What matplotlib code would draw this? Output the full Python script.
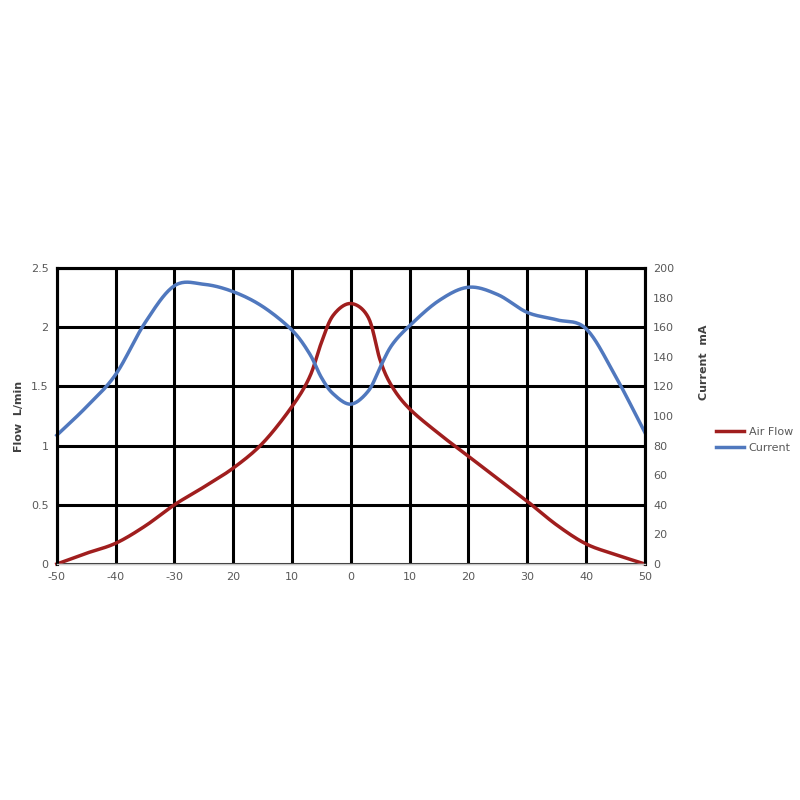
import matplotlib
matplotlib.use("Agg")
import matplotlib.pyplot as plt
import numpy as np

# readings taken off the chart
x_pos = [-50, -45, -40, -35, -30, -25, -20, -15, -10, -7, -5, -3, 0, 3, 5, 7, 10, 15, 20, 25, 30, 35, 40, 45, 50]
air_flow = [0.0, 0.09, 0.175, 0.32, 0.5, 0.65, 0.81, 1.02, 1.33, 1.58, 1.87, 2.1, 2.2, 2.08, 1.72, 1.5, 1.31, 1.1, 0.91, 0.72, 0.53, 0.33, 0.17, 0.08, 0.0]
current = [87, 106, 128, 163, 188, 189, 184, 174, 158, 142, 126, 115, 108, 117, 133, 148, 161, 178, 187, 182, 170, 165, 159, 127, 89]

tick_vals = [-50, -40, -30, -20, -10, 0, 10, 20, 30, 40, 50]
tick_labels = ["-50", "-40", "-30", "20", "10", "0", "10", "20", "30", "40", "50"]

red = "#A01E1E"
blue = "#5078BE"
grey = "#595959"


def smooth(xs, ys, n=20):
    # catmull-rom, like excel's "smoothed line"
    xs = np.asarray(xs, float)
    ys = np.asarray(ys, float)
    px = np.concatenate([[2 * xs[0] - xs[1]], xs, [2 * xs[-1] - xs[-2]]])
    py = np.concatenate([[2 * ys[0] - ys[1]], ys, [2 * ys[-1] - ys[-2]]])
    t = np.linspace(0, 1, n, endpoint=False)
    ox, oy = [], []
    for i in range(1, len(px) - 2):
        for p, o in ((px, ox), (py, oy)):
            p0, p1, p2, p3 = p[i - 1], p[i], p[i + 1], p[i + 2]
            o.extend(0.5 * (2 * p1 + (-p0 + p2) * t + (2 * p0 - 5 * p1 + 4 * p2 - p3) * t**2
                            + (-p0 + 3 * p1 - 3 * p2 + p3) * t**3))
    ox.append(xs[-1])
    oy.append(ys[-1])
    return np.array(ox), np.array(oy)


fig = plt.figure(figsize=(8, 8), dpi=100)
ax = fig.add_axes([0.071, 0.295, 0.735, 0.37])
ax2 = ax.twinx()

ax.set_xlim(-50, 50)
ax.set_ylim(0, 2.5)
ax2.set_ylim(0, 200)

ax.set_xticks(tick_vals)
ax.set_xticklabels(tick_labels)
ax.set_yticks([0, 0.5, 1, 1.5, 2, 2.5])
ax.set_yticklabels(["0", "0.5", "1", "1.5", "2", "2.5"])
ax2.set_yticks(range(0, 201, 20))

ax.grid(True, color="black", linewidth=2.2)
ax.set_axisbelow(True)
for a in (ax, ax2):
    a.tick_params(length=0, labelsize=8, labelcolor=grey, pad=6)
    for s in a.spines.values():
        s.set_color("black")
        s.set_linewidth(2.2)
    a.spines["bottom"].set_color("#C8C8C8")
    a.spines["bottom"].set_linewidth(1)

sx, sy = smooth(x_pos, air_flow)
l1, = ax.plot(sx, sy, color=red, linewidth=2.5, label="Air Flow", clip_on=False)
sx, sy = smooth(x_pos, current)
l2, = ax2.plot(sx, sy, color=blue, linewidth=2.5, label="Current", clip_on=False)

ax.set_ylabel("Flow  L/min", fontsize=8, fontweight="bold", color="#404040")
ax.yaxis.set_label_coords(-0.055, 0.5)
ax2.set_ylabel("Current  mA", fontsize=8, fontweight="bold", color="#404040")
ax2.yaxis.set_label_coords(1.092, 0.68)

fig.legend(handles=[l1, l2], loc="center left", bbox_to_anchor=(0.89, 0.45),
           frameon=False, fontsize=8, labelcolor=grey, handlelength=2.5,
           handletextpad=0.4, borderaxespad=0)

fig.savefig("out.png", dpi=100, facecolor="white")
